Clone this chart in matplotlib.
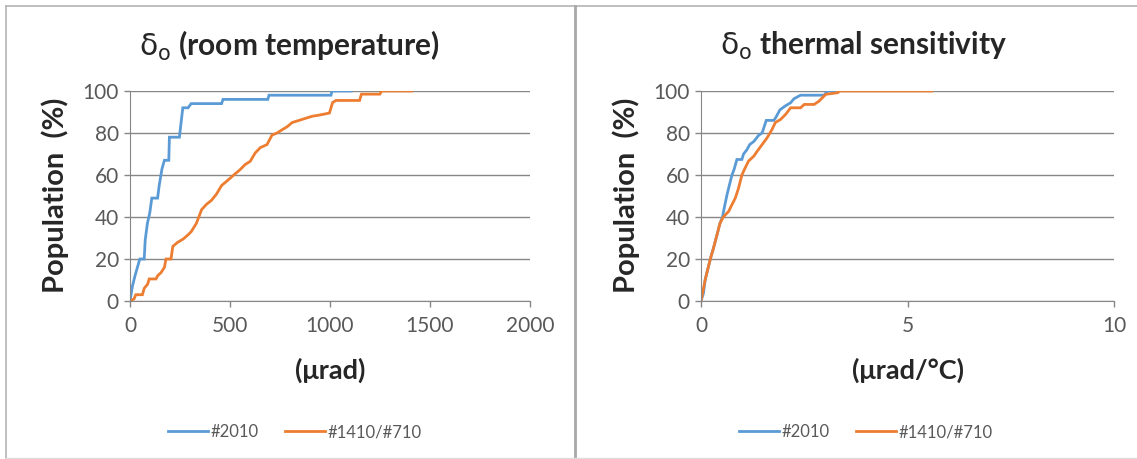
import matplotlib
matplotlib.use("Agg")
import matplotlib.pyplot as plt
from matplotlib.lines import Line2D

plt.rcParams['font.family'] = ['Lato', 'DejaVu Sans']
plt.rcParams['mathtext.fontset'] = 'dejavusans'

# Кумулятивные распределения, комнатная температура (мкрад, %)
rt_2010_x = [0, 12, 25, 37, 49, 71, 76, 87, 99, 109, 138, 146, 160, 172, 194, 197, 247,
             264, 290, 306, 458, 465, 689, 695, 1005, 1010, 1106]
rt_2010_y = [0, 7, 12, 16, 20, 20, 29, 37, 42, 49, 49, 55, 63, 67, 67, 78, 78,
             92, 92, 94, 94, 96, 96, 98, 98, 100, 100]

rt_1410_x = [0, 20, 29, 62, 71, 88, 96, 130, 138, 155, 172, 180, 205, 214, 239, 266, 290,
             306, 332, 358, 382, 408, 433, 458, 483, 525, 550, 576, 601, 626, 651, 685,
             710, 735, 760, 786, 811, 845, 878, 912, 945, 997, 1013, 1030, 1148, 1157,
             1249, 1258, 1409]
rt_1410_y = [0, 1, 3, 3, 6, 8, 10.5, 10.5, 12, 13.5, 16, 20, 20, 26, 28, 29.5, 31.5,
             33, 37, 43.5, 46, 48, 51, 55, 57, 60.5, 62.5, 65, 66.5, 70.5, 73, 74.5,
             79, 80, 81.5, 83, 85, 86, 87, 88, 88.5, 89.5, 94.5, 95.5, 95.5, 98.5,
             98.5, 100, 100]

# Термочувствительность (мкрад/°C, %)
ts_2010_x = [0, 0.06, 0.10, 0.18, 0.24, 0.30, 0.38, 0.46, 0.52, 0.57, 0.63, 0.69, 0.75,
             0.80, 0.87, 0.99, 1.03, 1.11, 1.18, 1.28, 1.40, 1.48, 1.58, 1.76, 1.80,
             1.91, 2.05, 2.17, 2.25, 2.41, 2.98, 3.02, 3.07, 3.31]
ts_2010_y = [0, 3.7, 10, 16.4, 21, 25, 31, 37, 40, 45, 50.6, 55.4, 60,
             62.6, 67.4, 67.4, 70, 72, 74.5, 76, 79, 80, 86, 86, 87,
             91, 93, 94.4, 96.3, 98, 98, 99, 100, 100]

ts_1410_x = [0, 0.10, 0.18, 0.24, 0.30, 0.38, 0.46, 0.54, 0.67, 0.75, 0.83, 0.91, 0.99,
             1.05, 1.15, 1.28, 1.36, 1.48, 1.60, 1.72, 1.80, 1.93, 2.05, 2.17, 2.41,
             2.50, 2.74, 2.86, 2.94, 3.02, 3.31, 3.35, 5.59]
ts_1410_y = [0, 10, 16.4, 21, 25, 31, 37, 40, 42.7, 45.9, 49, 53.8, 60,
             62.6, 66.6, 69, 71.3, 74.5, 77.7, 81.7, 85, 86.5, 88.9, 92, 92,
             93.6, 93.6, 95.2, 96.8, 98.4, 99.2, 100, 100]

labels = ['#2010', '#1410/#710']
blue = '#5B9BD5'
orange = '#ED7D31'
grid_c = '#878787'
tick_c = '#595959'
text_c = '#262626'

W, H = 1137, 459
fig = plt.figure(figsize=(W / 100, H / 100), dpi=100)

panels = [
    dict(rect=[130/W, 1-301/H, 400/W, 210/H], xmax=2000, xticks=[0, 500, 1000, 1500, 2000],
         data=[(rt_2010_x, rt_2010_y), (rt_1410_x, rt_1410_y)],
         title=r'$\mathrm{\delta}_\mathrm{o}$ (room temperature)', tx=289/W,
         xlabel='(μrad)', lx=330/W, ylx=55/W, leg_x=295/W),
    dict(rect=[701/W, 1-301/H, 413/W, 210/H], xmax=10, xticks=[0, 5, 10],
         data=[(ts_2010_x, ts_2010_y), (ts_1410_x, ts_1410_y)],
         title=r'$\mathrm{\delta}_\mathrm{o}$ thermal sensitivity', tx=863/W,
         xlabel='(μrad/°C)', lx=908/W, ylx=626/W, leg_x=866/W),
]

for p in panels:
    ax = fig.add_axes(p['rect'])
    for (xs, ys), c, lab in zip(p['data'], [blue, orange], labels):
        ax.plot(xs, ys, color=c, lw=2, label=lab, solid_joinstyle='miter')
    ax.set_xlim(0, p['xmax'])
    ax.set_ylim(0, 100)
    ax.set_xticks(p['xticks'])
    ax.set_yticks(range(0, 101, 20))
    ax.yaxis.grid(True, color=grid_c, lw=1)
    ax.set_axisbelow(True)
    for s in ['top', 'right']:
        ax.spines[s].set_visible(False)
    for s in ['left', 'bottom']:
        ax.spines[s].set_color(grid_c)
    ax.tick_params(axis='both', colors=grid_c, labelcolor=tick_c, labelsize=15,
                   length=4, width=1)
    ax.tick_params(axis='y', pad=4)
    ax.tick_params(axis='x', pad=7)
    fig.text(p['ylx'], 1-195/H, 'Population  (%)', rotation=90, ha='center', va='center',
             fontsize=21, fontweight='bold', color=text_c)
    fig.text(p['tx'], 1-46/H, p['title'], ha='center', va='center', fontsize=21.5,
             fontweight='bold', color=text_c)
    fig.text(p['lx'], 1-370/H, p['xlabel'], ha='center', va='center', fontsize=19.5,
             fontweight='bold', color=text_c)
    handles = [Line2D([], [], color=blue, lw=2), Line2D([], [], color=orange, lw=2)]
    fig.legend(handles, labels, loc='center', bbox_to_anchor=(p['leg_x'], 1-432/H),
               ncol=2, frameon=False, fontsize=12, handlelength=2.4, handletextpad=0.15,
               columnspacing=1.6, labelcolor=tick_c)

# Рамки панелей
fig.add_artist(Line2D([6/W, 1], [1-6/H, 1-6/H], color='#B4B4B4', lw=1.2))
fig.add_artist(Line2D([6/W, 6/W], [1-6/H, 1-458/H], color='#B4B4B4', lw=1.2))
fig.add_artist(Line2D([575/W, 575/W], [1-6/H, 0], color='#A8A8A8', lw=2))
fig.add_artist(Line2D([6/W, 1], [1-458/H, 1-458/H], color='#DDDDDD', lw=1))

fig.savefig('out.png', dpi=100)
